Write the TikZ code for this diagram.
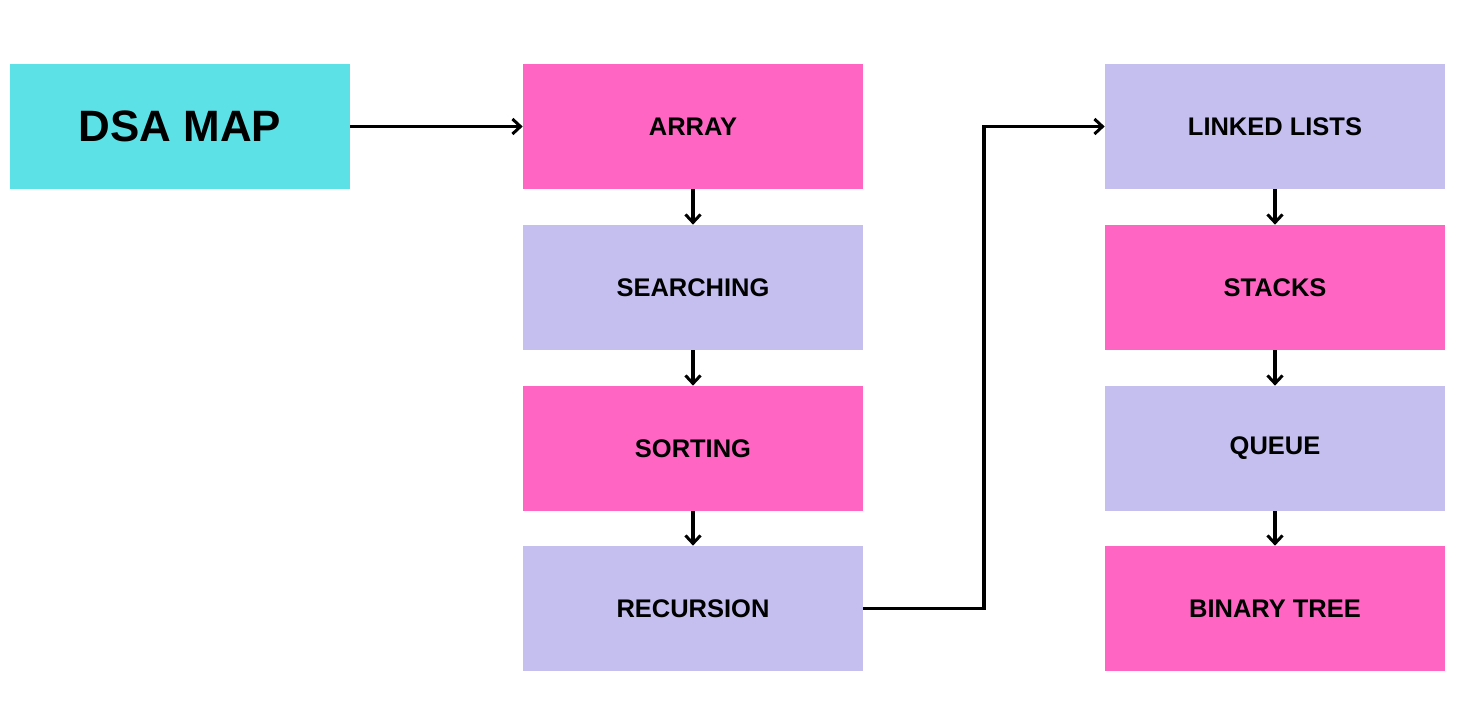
\documentclass[tikz,border=0pt]{standalone}
\usepackage{fontspec}
\setmainfont{Liberation Sans}
\usepackage{tikz}
\usetikzlibrary{arrows.meta,positioning,calc}

\definecolor{dsacyan}{HTML}{5CE1E6}
\definecolor{dsapink}{HTML}{FF66C4}
\definecolor{dsalilac}{HTML}{C4BFEE}

\begin{document}
\begin{tikzpicture}[
  topic/.style={rectangle,draw=none,minimum width=6.8cm,minimum height=2.5cm,
               inner sep=0pt,font=\bfseries\fontsize{14.5}{16}\selectfont},
  arrow/.style={black,line width=1.9pt,-{Straight Barb[length=1.6mm,width=3mm,line width=1.7pt]}}]

\useasboundingbox (0,0) rectangle (29.2,-14.54);

%% ---------- title ----------
\node[topic,fill=dsacyan,font=\bfseries\fontsize{25}{28}\selectfont](T) at (3.6,-2.53){DSA MAP};

%% ---------- column 1 ----------
\node[topic,fill=dsapink](A1)  at (13.86,-2.53){ARRAY};
\node[topic,fill=dsalilac](A2) at (13.86,-5.75){SEARCHING};
\node[topic,fill=dsapink](A3)  at (13.86,-8.97){SORTING};
\node[topic,fill=dsalilac](A4) at (13.86,-12.17){RECURSION};

%% ---------- column 2 ----------
\node[topic,fill=dsalilac](B1) at (25.5,-2.53){LINKED LISTS};
\node[topic,fill=dsapink](B2)  at (25.5,-5.75){STACKS};
\node[topic,fill=dsalilac](B3) at (25.5,-8.97){QUEUE};
\node[topic,fill=dsapink](B4)  at (25.5,-12.17){BINARY TREE};

% Title arrow
\draw[arrow](T.east)--(A1.west);
% Vertical arrows
\foreach \a/\b in {1/2,2/3,3/4}{
  \draw[arrow](A\a.south)--(A\b.north);
  \draw[arrow](B\a.south)--(B\b.north);
}
% Elbow between columns
\draw[arrow](A4.east) -| ($(A4.east)!.5!(B1.west)$) |- (B1.west);

\end{tikzpicture}
\end{document}
